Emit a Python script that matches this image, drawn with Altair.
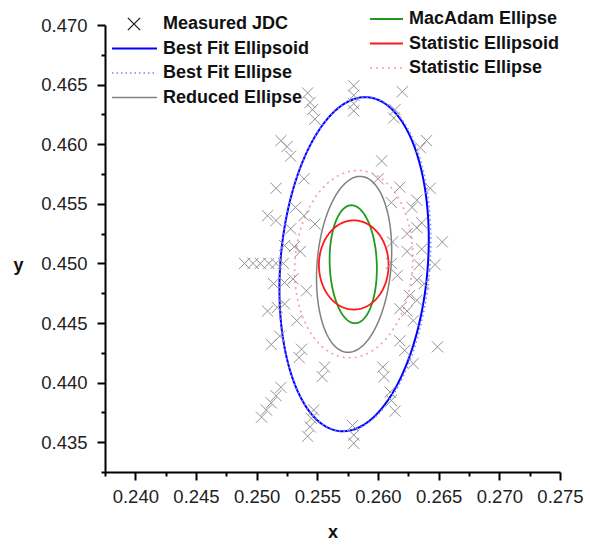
import altair as alt
import numpy as np
import pandas as pd

# ---------------- data ----------------
jdc_x = [
    0.2542, 0.2544, 0.2546, 0.2548, 0.2520, 0.2525, 0.2528, 0.2539, 0.2516,
    0.2532, 0.2539, 0.2548, 0.2509, 0.2516, 0.2528, 0.2523, 0.2531, 0.2536,
    0.2490, 0.2497, 0.2503, 0.2510, 0.2516, 0.2522,
    0.2514, 0.2523, 0.2530, 0.2541, 0.2509, 0.2517, 0.2523, 0.2533,
    0.2512, 0.2519, 0.2537, 0.2535, 0.2556, 0.2554,
    0.2520, 0.2516, 0.2512, 0.2508, 0.2504,
    0.2547, 0.2545, 0.2544, 0.2542,
    0.2579, 0.2580, 0.2580,
    0.2580, 0.2580, 0.2580, 0.2580,
    0.2620, 0.2614, 0.2613, 0.2640, 0.2635, 0.2603, 0.2600, 0.2618, 0.2643,
    0.2632, 0.2611, 0.2628, 0.2636, 0.2632, 0.2624, 0.2612, 0.2653, 0.2624,
    0.2636, 0.2611, 0.2634, 0.2647,
    0.2616, 0.2632, 0.2638, 0.2626, 0.2632, 0.2618, 0.2624, 0.2629,
    0.2618, 0.2622, 0.2629, 0.2649, 0.2604, 0.2605, 0.2610, 0.2611, 0.2614,
]
jdc_y = [
    0.4643, 0.4635, 0.4629, 0.4621, 0.4603, 0.4598, 0.4590, 0.4571, 0.4563,
    0.4547, 0.4540, 0.4533, 0.4540, 0.4536, 0.4529, 0.4515, 0.4514, 0.4510,
    0.4500, 0.4500, 0.4500, 0.4500, 0.4500, 0.4500,
    0.4483, 0.4484, 0.4487, 0.4477, 0.4460, 0.4463, 0.4466, 0.4452,
    0.4432, 0.4439, 0.4428, 0.4421, 0.4413, 0.4405,
    0.4396, 0.4389, 0.4383, 0.4377, 0.4371,
    0.4377, 0.4370, 0.4363, 0.4355,
    0.4364, 0.4356, 0.4349,
    0.4649, 0.4641, 0.4634, 0.4628,
    0.4644, 0.4629, 0.4622, 0.4603, 0.4597, 0.4586, 0.4571, 0.4564, 0.4563,
    0.4553, 0.4551, 0.4547, 0.4534, 0.4530, 0.4525, 0.4518, 0.4518, 0.4510,
    0.4512, 0.4500, 0.4499, 0.4499,
    0.4490, 0.4486, 0.4483, 0.4473, 0.4469, 0.4462, 0.4460, 0.4452,
    0.4435, 0.4427, 0.4416, 0.4430, 0.4413, 0.4405, 0.4392, 0.4385, 0.4376,
]

# ellipse parameters: centre, semi-axis along the near-vertical direction (a),
# semi-axis across (b), tilt of the long axis from vertical (degrees, + leans right)
ell_names = ["Best Fit Ellipsoid", "Best Fit Ellipse", "Reduced Ellipse",
             "MacAdam Ellipse", "Statistic Ellipsoid", "Statistic Ellipse"]
ell_cx = [0.25803, 0.25810, 0.25803, 0.25796, 0.25800, 0.25800]
ell_cy = [0.44993, 0.44993, 0.44992, 0.44993, 0.44987, 0.44994]
ell_a = [0.01405, 0.01405, 0.00740, 0.00495, 0.00374, 0.00787]
ell_b = [0.00607, 0.00617, 0.00305, 0.00194, 0.00287, 0.00485]
ell_rot = [4.6, 4.6, 4.6, -2.0, 0.0, 4.0]

x_ticks = [0.2375, 0.2400, 0.2425, 0.2450, 0.2475, 0.2500, 0.2525, 0.2550,
           0.2575, 0.2600, 0.2625, 0.2650, 0.2675, 0.2700, 0.2725, 0.2750]
y_ticks = [0.4325, 0.4350, 0.4375, 0.4400, 0.4425, 0.4450, 0.4475, 0.4500,
           0.4525, 0.4550, 0.4575, 0.4600, 0.4625, 0.4650, 0.4675, 0.4700]

# ---------------- styling ----------------
FONT = "Liberation Sans"
styles = {
    "Best Fit Ellipsoid": dict(color="#0000ff", strokeWidth=2.0),
    "Best Fit Ellipse": dict(color="#8080ff", strokeWidth=1.6, strokeDash=[1.5, 3]),
    "Reduced Ellipse": dict(color="#808080", strokeWidth=1.5),
    "MacAdam Ellipse": dict(color="#1f9a1f", strokeWidth=1.8),
    "Statistic Ellipsoid": dict(color="#ff1a1a", strokeWidth=1.8),
    "Statistic Ellipse": dict(color="#ff9a9a", strokeWidth=1.6, strokeDash=[2, 4]),
}

xs = alt.Scale(domain=[0.2375, 0.275], nice=False, zero=False)
ys = alt.Scale(domain=[0.4325, 0.470], nice=False, zero=False)

major_test = "round(datum.value*400) % 2 == 0"
label_expr = f"({major_test}) ? format(datum.value, '.3f') : ''"
tick_size = {"condition": {"test": major_test, "value": 8}, "value": 4}

common = dict(grid=False, labelOverlap=False, labelFlush=False,
              labelFont=FONT, labelFontSize=18.5, labelColor="#222222",
              domainColor="black", domainWidth=2, tickColor="black", tickWidth=2,
              titleFontSize=18, titleFontWeight="bold", titleFont=FONT,
              titleColor="#111111", labelExpr=label_expr, tickSize=tick_size)

x_axis = alt.Axis(values=x_ticks, title="x", titleY=60, titleBaseline="middle",
                  labelPadding=7, **common)
y_axis = alt.Axis(values=y_ticks, title="y", titleAngle=0, titleX=-87, titleY=240,
                  titleAlign="center", titleBaseline="middle", labelPadding=10,
                  **common)

layers = []

# ellipse outlines
t = np.linspace(0, 2 * np.pi, 241)
for k, name in enumerate(ell_names):
    th = np.deg2rad(ell_rot[k])
    ex = ell_cx[k] + ell_b[k] * np.cos(t) * np.cos(th) + ell_a[k] * np.sin(t) * np.sin(th)
    ey = ell_cy[k] - ell_b[k] * np.cos(t) * np.sin(th) + ell_a[k] * np.sin(t) * np.cos(th)
    df = pd.DataFrame({"x": ex, "y": ey, "i": np.arange(len(t))})
    st = styles[name]
    layers.append(
        alt.Chart(df).mark_line(**st).encode(
            x=alt.X("x:Q", scale=xs, axis=x_axis),
            y=alt.Y("y:Q", scale=ys, axis=y_axis),
            order="i:Q",
        )
    )

# measured points
XSHAPE = "M-1,-1L1,1M-1,1L1,-1"
pts = pd.DataFrame({"x": jdc_x, "y": jdc_y})
layers.append(
    alt.Chart(pts).mark_point(shape=XSHAPE, size=125, filled=False,
                              color="#929292", strokeWidth=1.0, opacity=1).encode(
        x=alt.X("x:Q", scale=xs, axis=x_axis),
        y=alt.Y("y:Q", scale=ys, axis=y_axis),
    )
)

# ---------------- manual legend ----------------
def legend_text(label, x, y):
    return alt.Chart(pd.DataFrame({"t": [label]})).mark_text(
        align="left", baseline="middle", font=FONT, fontSize=18,
        fontWeight="bold", color="#111111").encode(
        x=alt.value(x), y=alt.value(y), text="t:N")

def legend_line(name, x1, x2, y):
    st = dict(styles[name])
    return alt.Chart(pd.DataFrame({"t": [name]})).mark_rule(**st).encode(
        x=alt.value(x1), x2=alt.value(x2), y=alt.value(y))

left_rows = [-1, 23.5, 48, 72.5]
right_rows = [-6, 18.5, 43]

layers.append(
    alt.Chart(pd.DataFrame({"t": ["Measured JDC"]})).mark_point(
        shape=XSHAPE, size=150, filled=False, color="#222222", strokeWidth=1.4,
        opacity=1).encode(x=alt.value(29), y=alt.value(left_rows[0]))
)
layers.append(legend_text("Measured JDC", 58, left_rows[0]))
for name, yy in zip(["Best Fit Ellipsoid", "Best Fit Ellipse", "Reduced Ellipse"], left_rows[1:]):
    layers.append(legend_line(name, 7, 52, yy))
    layers.append(legend_text(name, 58, yy))
for name, yy in zip(["MacAdam Ellipse", "Statistic Ellipsoid", "Statistic Ellipse"], right_rows):
    layers.append(legend_line(name, 265, 298, yy))
    layers.append(legend_text(name, 304, yy))

chart = alt.layer(*layers).properties(
    width=455, height=447,
    background="white",
    autosize=alt.AutoSizeParams(type="none"),
    padding={"left": 105, "top": 25, "right": 30, "bottom": 73},
).configure_view(stroke=None)

chart.save("out.html", embed_options={"renderer": "svg", "actions": False})
